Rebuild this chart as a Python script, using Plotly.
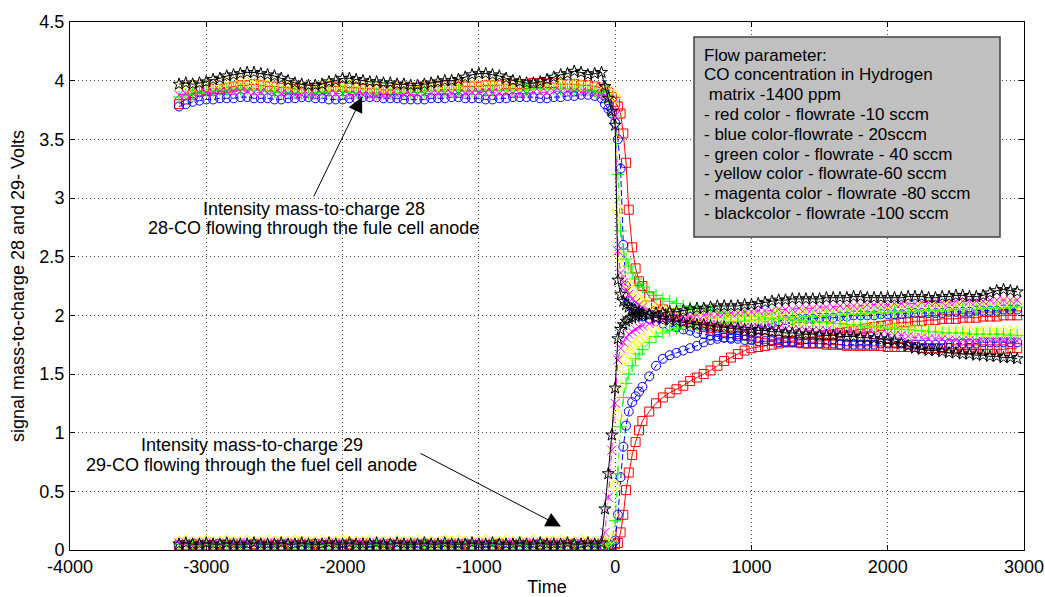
import plotly.graph_objects as go

# ---------------- sample times (s) ----------------
T_PRE = list(range(-3200, -100, 50))
T_POST = [-100, -75, -50, -25, 0, 20, 40, 60, 80, 100, 125, 150, 175, 200, 250, 300] + list(range(350, 3000, 50))
TIME = T_PRE + T_POST

# ---------------- mass-to-charge 28 (Volts) ----------------
red_m28 = [
    3.80, 3.84, 3.88, 3.91, 3.92, 3.93, 3.93, 3.94, 3.95, 3.96,
    3.96, 3.97, 3.96, 3.95, 3.95, 3.94, 3.94, 3.93, 3.93, 3.93,
    3.94, 3.94, 3.95, 3.95, 3.95, 3.94, 3.94, 3.93, 3.93, 3.93,
    3.92, 3.92, 3.93, 3.93, 3.94, 3.94, 3.95, 3.95, 3.95, 3.96,
    3.96, 3.96, 3.95, 3.95, 3.95, 3.96, 3.96, 3.96, 3.97, 3.97,
    3.97, 3.97, 3.98, 3.98, 3.98, 3.98, 3.97, 3.97, 3.97, 3.96,
    3.96, 3.95,
    3.94, 3.92, 3.90, 3.86, 3.82, 3.78, 3.72, 3.55, 3.30, 2.90, 2.58, 2.40, 2.29, 2.25, 2.16, 2.10,
    2.05, 2.02, 1.99, 1.96, 1.94, 1.92, 1.90, 1.89, 1.87, 1.86,
    1.85, 1.84, 1.83, 1.82, 1.81, 1.80, 1.79, 1.79, 1.78, 1.77,
    1.77, 1.76, 1.76, 1.76, 1.75, 1.75, 1.75, 1.74, 1.74, 1.74,
    1.74, 1.74, 1.74, 1.73, 1.73, 1.73, 1.73, 1.73, 1.72, 1.72,
    1.72, 1.72, 1.72, 1.71, 1.71, 1.71, 1.71, 1.71, 1.71, 1.71,
    1.71, 1.72, 1.72,
]
blue_m28 = [
    3.78, 3.80, 3.82, 3.83, 3.84, 3.84, 3.85, 3.85, 3.85, 3.86,
    3.86, 3.85, 3.85, 3.85, 3.84, 3.84, 3.85, 3.85, 3.86, 3.86,
    3.85, 3.85, 3.84, 3.84, 3.84, 3.85, 3.85, 3.86, 3.86, 3.86,
    3.85, 3.85, 3.85, 3.84, 3.84, 3.84, 3.84, 3.85, 3.85, 3.85,
    3.86, 3.86, 3.85, 3.85, 3.85, 3.84, 3.84, 3.85, 3.85, 3.86,
    3.86, 3.86, 3.86, 3.85, 3.85, 3.86, 3.86, 3.87, 3.87, 3.88,
    3.88, 3.87,
    3.85, 3.80, 3.76, 3.72, 3.64, 3.50, 3.25, 2.60, 2.25, 2.12, 2.06, 2.03, 2.01, 1.99, 1.97, 1.95,
    1.93, 1.91, 1.90, 1.88, 1.87, 1.85, 1.84, 1.83, 1.82, 1.81,
    1.80, 1.80, 1.79, 1.79, 1.78, 1.78, 1.78, 1.77, 1.77, 1.77,
    1.76, 1.76, 1.76, 1.76, 1.76, 1.76, 1.75, 1.75, 1.75, 1.75,
    1.75, 1.75, 1.76, 1.76, 1.76, 1.76, 1.75, 1.75, 1.75, 1.75,
    1.75, 1.75, 1.76, 1.76, 1.76, 1.76, 1.76, 1.77, 1.77, 1.77,
    1.77, 1.77, 1.77,
]
green_m28 = [
    3.86, 3.88, 3.89, 3.90, 3.91, 3.91, 3.92, 3.92, 3.93, 3.93,
    3.93, 3.92, 3.92, 3.91, 3.91, 3.90, 3.90, 3.90, 3.89, 3.89,
    3.90, 3.90, 3.91, 3.91, 3.91, 3.90, 3.90, 3.89, 3.89, 3.89,
    3.89, 3.89, 3.89, 3.90, 3.90, 3.90, 3.91, 3.91, 3.91, 3.91,
    3.92, 3.92, 3.91, 3.91, 3.91, 3.91, 3.92, 3.92, 3.92, 3.92,
    3.92, 3.92, 3.93, 3.93, 3.93, 3.93, 3.93, 3.93, 3.92, 3.92,
    3.92, 3.91,
    3.90, 3.88, 3.86, 3.82, 3.70, 3.20, 2.72, 2.56, 2.48, 2.42, 2.36, 2.31, 2.27, 2.24, 2.20, 2.17,
    2.14, 2.12, 2.10, 2.08, 2.07, 2.06, 2.05, 2.04, 2.03, 2.02,
    2.01, 2.00, 2.00, 1.99, 1.99, 1.98, 1.98, 1.97, 1.97, 1.96,
    1.96, 1.95, 1.95, 1.94, 1.94, 1.93, 1.93, 1.92, 1.92, 1.91,
    1.91, 1.90, 1.90, 1.89, 1.89, 1.88, 1.88, 1.87, 1.87, 1.86,
    1.86, 1.85, 1.85, 1.85, 1.85, 1.84, 1.84, 1.84, 1.84, 1.84,
    1.84, 1.83, 1.83,
]
yellow_m28 = [
    3.93, 3.94, 3.95, 3.95, 3.96, 3.97, 3.97, 3.98, 3.98, 3.98,
    3.98, 3.97, 3.97, 3.96, 3.96, 3.95, 3.95, 3.95, 3.94, 3.94,
    3.95, 3.95, 3.96, 3.96, 3.96, 3.96, 3.95, 3.95, 3.94, 3.94,
    3.94, 3.94, 3.94, 3.94, 3.95, 3.95, 3.95, 3.95, 3.96, 3.96,
    3.96, 3.96, 3.96, 3.96, 3.97, 3.97, 3.97, 3.97, 3.96, 3.96,
    3.96, 3.96, 3.96, 3.96, 3.97, 3.97, 3.97, 3.97, 3.97, 3.96,
    3.95, 3.94,
    3.93, 3.92, 3.91, 3.90, 3.86, 2.90, 2.50, 2.38, 2.31, 2.26, 2.21, 2.16, 2.13, 2.11, 2.08, 2.06,
    2.04, 2.03, 2.02, 2.01, 2.00, 1.99, 1.99, 1.98, 1.97, 1.97,
    1.96, 1.96, 1.95, 1.95, 1.95, 1.94, 1.94, 1.94, 1.93, 1.93,
    1.93, 1.92, 1.92, 1.92, 1.91, 1.91, 1.91, 1.91, 1.90, 1.90,
    1.90, 1.90, 1.89, 1.89, 1.89, 1.89, 1.88, 1.88, 1.88, 1.88,
    1.87, 1.87, 1.87, 1.87, 1.87, 1.86, 1.86, 1.86, 1.86, 1.86,
    1.86, 1.86, 1.86,
]
magenta_m28 = [
    3.88, 3.89, 3.89, 3.90, 3.90, 3.90, 3.91, 3.91, 3.91, 3.91,
    3.91, 3.90, 3.90, 3.90, 3.89, 3.89, 3.89, 3.88, 3.88, 3.88,
    3.88, 3.89, 3.89, 3.89, 3.89, 3.88, 3.88, 3.88, 3.87, 3.87,
    3.87, 3.87, 3.88, 3.88, 3.88, 3.88, 3.89, 3.89, 3.89, 3.89,
    3.89, 3.89, 3.89, 3.90, 3.90, 3.90, 3.90, 3.89, 3.89, 3.89,
    3.89, 3.89, 3.90, 3.90, 3.90, 3.91, 3.91, 3.91, 3.91, 3.90,
    3.90, 3.89,
    3.88, 3.87, 3.85, 3.80, 3.70, 2.55, 2.36, 2.28, 2.22, 2.18, 2.14, 2.11, 2.09, 2.07, 2.04, 2.01,
    1.99, 1.97, 1.96, 1.95, 1.94, 1.93, 1.93, 1.92, 1.92, 1.91,
    1.91, 1.91, 1.90, 1.90, 1.90, 1.89, 1.89, 1.89, 1.88, 1.88,
    1.88, 1.87, 1.87, 1.87, 1.87, 1.86, 1.86, 1.86, 1.85, 1.85,
    1.85, 1.84, 1.84, 1.84, 1.83, 1.83, 1.82, 1.81, 1.81, 1.80,
    1.80, 1.80, 1.79, 1.79, 1.79, 1.79, 1.78, 1.78, 1.78, 1.78,
    1.78, 1.78, 1.78,
]
black_m28 = [
    3.97, 3.98, 3.97, 3.98, 3.99, 4.01, 4.02, 4.04, 4.05, 4.06,
    4.07, 4.07, 4.06, 4.05, 4.04, 4.02, 4.00, 3.98, 3.97, 3.96,
    3.96, 3.97, 3.99, 4.00, 4.02, 4.02, 4.01, 4.00, 3.99, 3.99,
    3.98, 3.98, 3.97, 3.97, 3.96, 3.96, 3.97, 3.98, 3.99, 4.00,
    4.00, 4.01, 4.03, 4.05, 4.06, 4.06, 4.05, 4.04, 4.02, 4.00,
    3.99, 3.98, 3.98, 3.99, 4.01, 4.03, 4.05, 4.06, 4.08, 4.07,
    4.05, 4.06,
    4.07, 3.95, 3.85, 3.74, 3.62, 2.30, 2.18, 2.12, 2.09, 2.07, 2.05, 2.04, 2.03, 2.02, 2.00, 1.98,
    1.97, 1.96, 1.95, 1.94, 1.93, 1.92, 1.92, 1.91, 1.90, 1.90,
    1.89, 1.89, 1.88, 1.88, 1.87, 1.87, 1.86, 1.86, 1.85, 1.85,
    1.84, 1.84, 1.84, 1.83, 1.83, 1.83, 1.82, 1.82, 1.82, 1.81,
    1.81, 1.80, 1.80, 1.79, 1.78, 1.76, 1.74, 1.72, 1.71, 1.70,
    1.70, 1.69, 1.68, 1.68, 1.67, 1.67, 1.66, 1.66, 1.65, 1.65,
    1.64, 1.64, 1.63,
]

# ---------------- mass-to-charge 29 (Volts) ----------------
red_m29 = [
    0.04, 0.04, 0.05, 0.04, 0.04, 0.04, 0.05, 0.04, 0.04, 0.04,
    0.04, 0.05, 0.04, 0.04, 0.04, 0.04, 0.05, 0.04, 0.04, 0.04,
    0.05, 0.04, 0.04, 0.04, 0.04, 0.05, 0.04, 0.04, 0.04, 0.04,
    0.04, 0.05, 0.04, 0.04, 0.04, 0.04, 0.05, 0.04, 0.04, 0.04,
    0.04, 0.04, 0.05, 0.04, 0.04, 0.04, 0.04, 0.05, 0.04, 0.04,
    0.04, 0.04, 0.04, 0.05, 0.04, 0.04, 0.04, 0.04, 0.05, 0.04,
    0.04, 0.04,
    0.04, 0.04, 0.04, 0.04, 0.05, 0.06, 0.15, 0.30, 0.51, 0.66, 0.81, 0.92, 1.02, 1.10, 1.18, 1.25,
    1.30, 1.34, 1.37, 1.40, 1.44, 1.47, 1.50, 1.53, 1.57, 1.61,
    1.64, 1.67, 1.70, 1.72, 1.73, 1.74, 1.75, 1.76, 1.77, 1.78,
    1.79, 1.80, 1.81, 1.82, 1.83, 1.84, 1.85, 1.86, 1.87, 1.88,
    1.89, 1.90, 1.91, 1.92, 1.93, 1.94, 1.94, 1.95, 1.95, 1.96,
    1.96, 1.97, 1.97, 1.97, 1.98, 1.98, 1.98, 1.99, 1.99, 1.99,
    2.00, 2.00, 2.00,
]
blue_m29 = [
    0.03, 0.03, 0.04, 0.03, 0.03, 0.03, 0.04, 0.03, 0.03, 0.03,
    0.03, 0.04, 0.03, 0.03, 0.03, 0.03, 0.04, 0.03, 0.03, 0.03,
    0.04, 0.03, 0.03, 0.03, 0.03, 0.04, 0.03, 0.03, 0.03, 0.03,
    0.03, 0.04, 0.03, 0.03, 0.03, 0.03, 0.04, 0.03, 0.03, 0.03,
    0.03, 0.03, 0.04, 0.03, 0.03, 0.03, 0.03, 0.04, 0.03, 0.03,
    0.03, 0.03, 0.03, 0.04, 0.03, 0.03, 0.03, 0.03, 0.04, 0.03,
    0.03, 0.03,
    0.03, 0.03, 0.03, 0.04, 0.08, 0.30, 0.62, 0.88, 1.06, 1.18, 1.26, 1.31, 1.35, 1.39, 1.48, 1.57,
    1.63, 1.66, 1.68, 1.70, 1.72, 1.74, 1.77, 1.79, 1.80, 1.81,
    1.81, 1.82, 1.83, 1.85, 1.88, 1.91, 1.93, 1.95, 1.96, 1.96,
    1.97, 1.97, 1.97, 1.98, 1.98, 1.98, 1.99, 1.99, 2.00, 2.00,
    2.00, 2.00, 2.01, 2.01, 2.01, 2.01, 2.02, 2.02, 2.02, 2.02,
    2.02, 2.02, 2.03, 2.03, 2.03, 2.03, 2.04, 2.04, 2.04, 2.04,
    2.05, 2.05, 2.05,
]
green_m29 = [
    0.05, 0.05, 0.04, 0.05, 0.05, 0.05, 0.04, 0.05, 0.05, 0.05,
    0.05, 0.04, 0.05, 0.05, 0.05, 0.05, 0.04, 0.05, 0.05, 0.05,
    0.04, 0.05, 0.05, 0.05, 0.05, 0.04, 0.05, 0.05, 0.05, 0.05,
    0.05, 0.04, 0.05, 0.05, 0.05, 0.05, 0.04, 0.05, 0.05, 0.05,
    0.05, 0.05, 0.04, 0.05, 0.05, 0.05, 0.05, 0.04, 0.05, 0.05,
    0.05, 0.05, 0.05, 0.04, 0.05, 0.05, 0.05, 0.05, 0.04, 0.05,
    0.05, 0.05,
    0.05, 0.05, 0.05, 0.06, 0.25, 0.65, 1.05, 1.30, 1.42, 1.50, 1.57, 1.63, 1.67, 1.71, 1.77, 1.82,
    1.85, 1.87, 1.89, 1.90, 1.91, 1.92, 1.92, 1.93, 1.93, 1.94,
    1.94, 1.95, 1.95, 1.96, 1.96, 1.97, 1.97, 1.97, 1.98, 1.98,
    1.98, 1.99, 1.99, 1.99, 2.00, 2.00, 2.00, 2.01, 2.01, 2.01,
    2.02, 2.02, 2.02, 2.02, 2.03, 2.03, 2.03, 2.03, 2.04, 2.04,
    2.04, 2.04, 2.04, 2.05, 2.05, 2.05, 2.05, 2.06, 2.06, 2.06,
    2.06, 2.07, 2.07,
]
yellow_m29 = [
    0.07, 0.08, 0.07, 0.07, 0.08, 0.07, 0.07, 0.08, 0.07, 0.07,
    0.08, 0.07, 0.07, 0.08, 0.07, 0.07, 0.07, 0.08, 0.07, 0.07,
    0.07, 0.08, 0.07, 0.07, 0.08, 0.07, 0.07, 0.07, 0.08, 0.07,
    0.07, 0.07, 0.08, 0.07, 0.07, 0.08, 0.07, 0.07, 0.07, 0.08,
    0.07, 0.08, 0.07, 0.07, 0.07, 0.08, 0.07, 0.07, 0.08, 0.07,
    0.07, 0.07, 0.08, 0.07, 0.07, 0.07, 0.08, 0.07, 0.07, 0.08,
    0.07, 0.07,
    0.07, 0.07, 0.07, 0.10, 0.55, 1.15, 1.40, 1.55, 1.63, 1.68, 1.72, 1.75, 1.78, 1.80, 1.84, 1.87,
    1.90, 1.92, 1.93, 1.94, 1.95, 1.96, 1.96, 1.97, 1.97, 1.98,
    1.98, 1.99, 1.99, 2.00, 2.00, 2.00, 2.01, 2.01, 2.01, 2.02,
    2.02, 2.02, 2.03, 2.03, 2.03, 2.04, 2.04, 2.04, 2.05, 2.05,
    2.05, 2.05, 2.06, 2.06, 2.06, 2.06, 2.07, 2.07, 2.07, 2.07,
    2.07, 2.08, 2.08, 2.08, 2.08, 2.09, 2.09, 2.09, 2.09, 2.10,
    2.10, 2.10, 2.10,
]
magenta_m29 = [
    0.06, 0.06, 0.05, 0.06, 0.06, 0.06, 0.05, 0.06, 0.06, 0.06,
    0.06, 0.05, 0.06, 0.06, 0.06, 0.06, 0.05, 0.06, 0.06, 0.06,
    0.05, 0.06, 0.06, 0.06, 0.06, 0.05, 0.06, 0.06, 0.06, 0.06,
    0.06, 0.05, 0.06, 0.06, 0.06, 0.06, 0.05, 0.06, 0.06, 0.06,
    0.06, 0.06, 0.05, 0.06, 0.06, 0.06, 0.06, 0.05, 0.06, 0.06,
    0.06, 0.06, 0.06, 0.05, 0.06, 0.06, 0.06, 0.06, 0.05, 0.06,
    0.06, 0.06,
    0.06, 0.15, 0.45, 0.85, 1.25, 1.62, 1.72, 1.77, 1.81, 1.84, 1.86, 1.88, 1.90, 1.91, 1.93, 1.95,
    1.96, 1.97, 1.98, 1.99, 1.99, 2.00, 2.00, 2.01, 2.01, 2.02,
    2.02, 2.02, 2.03, 2.03, 2.04, 2.04, 2.04, 2.05, 2.05, 2.05,
    2.06, 2.06, 2.06, 2.07, 2.07, 2.07, 2.08, 2.08, 2.08, 2.08,
    2.09, 2.09, 2.09, 2.09, 2.10, 2.10, 2.10, 2.10, 2.11, 2.11,
    2.11, 2.11, 2.11, 2.12, 2.12, 2.12, 2.12, 2.12, 2.13, 2.13,
    2.13, 2.13, 2.13,
]
black_m29 = [
    0.05, 0.06, 0.05, 0.05, 0.06, 0.05, 0.05, 0.06, 0.05, 0.05,
    0.05, 0.06, 0.05, 0.05, 0.05, 0.06, 0.05, 0.05, 0.06, 0.05,
    0.05, 0.05, 0.06, 0.05, 0.05, 0.06, 0.05, 0.05, 0.05, 0.06,
    0.05, 0.05, 0.06, 0.05, 0.05, 0.05, 0.06, 0.05, 0.05, 0.06,
    0.05, 0.05, 0.05, 0.06, 0.05, 0.05, 0.06, 0.05, 0.05, 0.05,
    0.06, 0.05, 0.05, 0.06, 0.05, 0.05, 0.05, 0.06, 0.05, 0.05,
    0.06, 0.05,
    0.06, 0.35, 0.65, 0.98, 1.38, 1.80, 1.88, 1.92, 1.95, 1.97, 1.98, 1.99, 2.00, 2.00, 2.01, 2.02,
    2.02, 2.03, 2.03, 2.04, 2.05, 2.06, 2.06, 2.07, 2.08, 2.08,
    2.08, 2.08, 2.09, 2.09, 2.10, 2.11, 2.12, 2.13, 2.13, 2.14,
    2.14, 2.14, 2.14, 2.14, 2.15, 2.15, 2.15, 2.15, 2.16, 2.16,
    2.15, 2.15, 2.15, 2.15, 2.15, 2.15, 2.16, 2.16, 2.16, 2.15,
    2.15, 2.16, 2.16, 2.17, 2.17, 2.16, 2.16, 2.17, 2.19, 2.21,
    2.22, 2.21, 2.20,
]

LEGEND_LINES = [
    "Flow parameter:",
    "CO concentration in Hydrogen",
    "\u00a0matrix -1400 ppm",
    "- red color - flowrate -10 sccm",
    "- blue color-flowrate - 20sccm",
    "- green color - flowrate - 40 sccm",
    "- yellow color - flowrate-60 sccm",
    "- magenta color - flowrate -80 sccm",
    "- blackcolor - flowrate -100 sccm",
]
X_TICKS = [-4000, -3000, -2000, -1000, 0, 1000, 2000, 3000]
X_TICK_TEXT = ["-4000", "-3000", "-2000", "-1000", "0", "1000", "2000", "3000"]
Y_TICKS = [0, 0.5, 1, 1.5, 2, 2.5, 3, 3.5, 4, 4.5]
Y_TICK_TEXT = ["0", "0.5", "1", "1.5", "2", "2.5", "3", "3.5", "4", "4.5"]

FONT = "Liberation Sans, Arial, Helvetica, sans-serif"

series = [
    ("red", "#ff0000", "square-open", "solid", red_m28, red_m29),
    ("blue", "#0000ff", "circle-open", "6px,3px", blue_m28, blue_m29),
    ("green", "#00ff00", "cross-thin-open", "6px,3px,1px,3px", green_m28, green_m29),
    ("yellow", "#ffff00", "diamond-open", "1px,3px", yellow_m28, yellow_m29),
    ("magenta", "#ff00ff", "x-thin-open", "6px,3px,1px,3px", magenta_m28, magenta_m29),
    ("black", "#000000", "star-open", "solid", black_m28, black_m29),
]

fig = go.Figure()
for name, color, sym, dash, m28, m29 in series:
    assert len(m28) == len(TIME), (name, 28, len(m28), len(TIME))
    assert len(m29) == len(TIME), (name, 29, len(m29), len(TIME))
    for vals in (m28, m29):
        fig.add_trace(go.Scatter(
            x=TIME, y=vals, mode="lines+markers", name=name, showlegend=False,
            line=dict(color=color, width=1, dash=dash),
            marker=dict(symbol=sym, size=9, color=color, line=dict(color=color, width=1)),
        ))

# plot-area geometry in pixels (for placing the text box)
L, R, TOP, BOT = 70, 1024, 22, 550
def px_x(p):
    return (p - L) / (R - L)
def px_y(p):
    return (BOT - p) / (BOT - TOP)

fig.add_shape(type="rect", xref="paper", yref="paper",
              x0=px_x(694), x1=px_x(1000), y0=px_y(237), y1=px_y(37),
              fillcolor="#c0c0c0", line=dict(color="#404040", width=1.5), layer="above")

annotations = []
for i, line in enumerate(LEGEND_LINES):
    annotations.append(dict(
        xref="paper", yref="paper", x=px_x(702), y=px_y(55 + 19.8 * i),
        text=line, showarrow=False, xanchor="left", yanchor="middle",
        font=dict(family=FONT, size=17, color="black")))

# text labels
for txt, x, y in [
    ("Intensity mass-to-charge 28", -2210, 2.905),
    ("28-CO flowing through the fule cell anode", -2210, 2.745),
    ("Intensity mass-to-charge 29", -2665, 0.895),
    ("29-CO flowing through the fuel cell anode", -2665, 0.724),
]:
    annotations.append(dict(x=x, y=y, xref="x", yref="y", text=txt, showarrow=False,
                            xanchor="center", yanchor="middle",
                            font=dict(family=FONT, size=18, color="black")))

# arrows
for (x0, y0, x1, y1) in [(-2217, 3.0, -1857, 3.86), (-1439, 0.83, -398, 0.20)]:
    annotations.append(dict(x=x1, y=y1, xref="x", yref="y", ax=x0, ay=y0, axref="x", ayref="y",
                            text="", showarrow=True, arrowhead=2, arrowsize=3, arrowwidth=1,
                            arrowcolor="black", standoff=0, startstandoff=0))

fig.update_layout(
    width=1045, height=597,
    margin=dict(l=L, r=1045 - R, t=TOP, b=597 - BOT, autoexpand=False),
    paper_bgcolor="white", plot_bgcolor="white",
    font=dict(family=FONT, size=18, color="black"),
    annotations=annotations,
    showlegend=False,
)
axis_common = dict(
    showline=True, linecolor="#000000", linewidth=1, mirror="ticks",
    ticks="inside", ticklen=5, tickcolor="#000000",
    showgrid=True, gridcolor="#444444", gridwidth=1, griddash="1px,3px",
    zeroline=False, tickfont=dict(family=FONT, size=18, color="black"),
    automargin=False,
)
fig.update_xaxes(range=[-4000, 3000], tickmode="array", tickvals=X_TICKS, ticktext=X_TICK_TEXT,
                 ticklabelstandoff=0,
                 title=dict(text="Time", font=dict(size=18), standoff=9),
                 **axis_common)
fig.update_yaxes(range=[0, 4.5], tickmode="array", tickvals=Y_TICKS, ticktext=Y_TICK_TEXT,
                 ticklabelstandoff=1,
                 title=dict(text="signal mass-to-charge 28 and 29- Volts", font=dict(size=18), standoff=10),
                 **axis_common)

fig.write_html("out.html")
